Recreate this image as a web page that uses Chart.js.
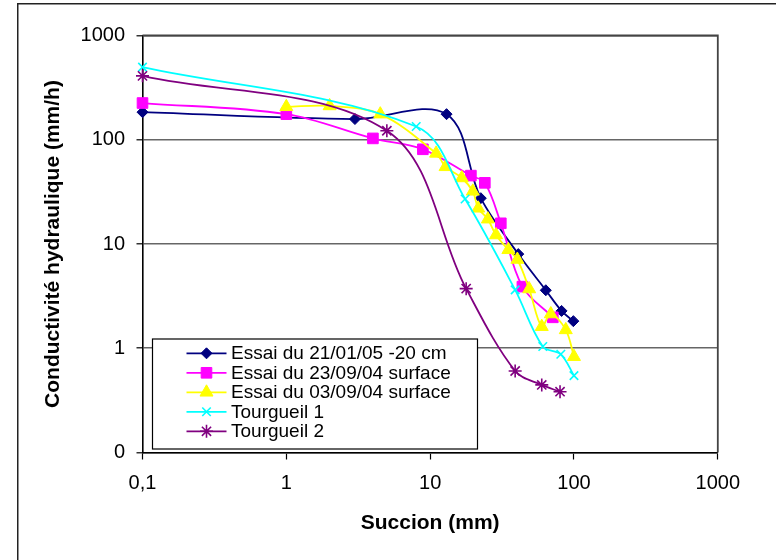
<!DOCTYPE html>
<html>
<head>
<meta charset="utf-8">
<script src="https://cdn.jsdelivr.net/npm/chart.js@4/dist/chart.umd.min.js"></script>
<style>
html,body{margin:0;padding:0;background:#fff;}
canvas{display:block;}
</style>
</head>
<body>
<canvas id="c" width="776" height="560"></canvas>
<script>
// ---- data ----
const seriesLabels = [
  'Essai du 21/01/05 -20 cm',
  'Essai du 23/09/04 surface',
  'Essai du 03/09/04 surface',
  'Tourgueil 1',
  'Tourgueil 2'
];
const essai210105X = [0.1, 3, 13, 22.5, 41, 63.7, 82, 99];
const essai210105Y = [184, 158, 176, 27.5, 8.0, 3.6, 2.28, 1.82];
const essai230904X = [0.1, 1, 4, 8.9, 19.2, 24, 31, 43.8, 71.3];
const essai230904Y = [225, 176, 103, 81, 45.3, 38.6, 15.8, 3.9, 1.98];
const essai030904X = [1, 2, 4.5, 11, 12.8, 16.6, 19.8, 21.6, 25.2, 28.7, 35, 40.4, 48.8, 59.7, 69, 87.7, 100];
const essai030904Y = [207, 211, 176, 74, 55, 43, 32, 22, 17.3, 12.2, 8.8, 7.1, 3.7, 1.61, 2.13, 1.5, 0.83];
const tourgueil1X = [0.1, 8, 17.5, 39, 60.7, 81, 100];
const tourgueil1Y = [497, 134, 27, 3.63, 1.04, 0.875, 0.546];
const tourgueil2X = [0.1, 5, 17.8, 39, 59.7, 80];
const tourgueil2Y = [410, 122, 3.73, 0.605, 0.445, 0.383];

const xTickValues = [0.1, 1, 10, 100, 1000];
const xTickLabels = ['0,1', '1', '10', '100', '1000'];
const yTickValues = [0.1, 1, 10, 100, 1000];
const yTickLabels = ['0', '1', '10', '100', '1000'];

const xTitle = 'Succion (mm)';
const yTitle = 'Conductivité hydraulique (mm/h)';

// ---- styles ----
const FONT = "'Liberation Sans', Arial, sans-serif";
const seriesStyles = [
  {color: '#000080', point: 'rectRot', radius: 5.5, pw: 1},
  {color: '#FF00FF', point: 'rect', radius: 7.5, pw: 1},
  {color: '#FFFF00', point: 'triangle', radius: 7.5, pw: 1},
  {color: '#00FFFF', point: 'crossRot', radius: 6, pw: 1.6},
  {color: '#800080', point: 'star', radius: 6.5, pw: 1.6}
];
const seriesX = [essai210105X, essai230904X, essai030904X, tourgueil1X, tourgueil2X];
const seriesY = [essai210105Y, essai230904Y, essai030904Y, tourgueil1Y, tourgueil2Y];

const datasets = seriesLabels.map((lab, i) => ({
  label: lab,
  data: seriesX[i].map((x, j) => ({x: x, y: seriesY[i][j]})),
  showLine: true,
  borderColor: seriesStyles[i].color,
  backgroundColor: seriesStyles[i].color,
  borderWidth: 1.8,
  tension: 0.35,
  pointStyle: seriesStyles[i].point,
  pointRadius: seriesStyles[i].radius,
  pointBackgroundColor: seriesStyles[i].color,
  pointBorderColor: seriesStyles[i].color,
  pointBorderWidth: seriesStyles[i].pw,
  clip: false,
  order: seriesLabels.length - i
}));

function drawMarker(ctx, style, x, y) {
  const r = style.radius;
  ctx.save();
  ctx.fillStyle = style.color;
  ctx.strokeStyle = style.color;
  ctx.lineWidth = style.pw;
  if (Chart.helpers && Chart.helpers.drawPoint) {
    Chart.helpers.drawPoint(ctx, {pointStyle: style.point, radius: r, borderWidth: style.pw, rotation: 0}, x, y);
  } else {
    ctx.beginPath();
    if (style.point === 'rectRot') {
      ctx.moveTo(x, y - r); ctx.lineTo(x + r, y); ctx.lineTo(x, y + r); ctx.lineTo(x - r, y); ctx.closePath(); ctx.fill();
    } else if (style.point === 'rect') {
      const s = r * Math.SQRT1_2; ctx.rect(x - s, y - s, 2 * s, 2 * s); ctx.fill();
    } else if (style.point === 'triangle') {
      ctx.moveTo(x, y - r); ctx.lineTo(x + r * 0.866, y + r / 2); ctx.lineTo(x - r * 0.866, y + r / 2); ctx.closePath(); ctx.fill();
    } else {
      const d = r * Math.SQRT1_2;
      ctx.moveTo(x - d, y - d); ctx.lineTo(x + d, y + d); ctx.moveTo(x + d, y - d); ctx.lineTo(x - d, y + d);
      if (style.point === 'star') { ctx.moveTo(x, y - r); ctx.lineTo(x, y + r); ctx.moveTo(x - r, y); ctx.lineTo(x + r, y); }
    }
    ctx.stroke();
  }
  ctx.restore();
}

const framePlugin = {
  id: 'frame',
  beforeDraw(chart) {
    const ctx = chart.ctx;
    ctx.save();
    ctx.fillStyle = '#fff';
    ctx.fillRect(0, 0, chart.width, chart.height);
    ctx.strokeStyle = '#222';
    ctx.lineWidth = 1.5;
    ctx.beginPath();
    ctx.moveTo(17.75, 562); ctx.lineTo(17.75, 3.75); ctx.lineTo(780, 3.75);
    ctx.stroke();
    ctx.restore();
  },
  afterDatasetsDraw(chart) {
    const ctx = chart.ctx;
    const a = chart.chartArea;
    ctx.save();
    // top and right plot border
    ctx.strokeStyle = '#444';
    ctx.lineWidth = 1.8;
    ctx.beginPath();
    ctx.moveTo(a.left, a.top); ctx.lineTo(a.right, a.top); ctx.lineTo(a.right, a.bottom);
    ctx.stroke();
    // legend box
    const lx = 152.5, ly = 339, lw = 325, lh = 110;
    ctx.fillStyle = '#fff';
    ctx.fillRect(lx, ly, lw, lh);
    ctx.strokeStyle = '#000';
    ctx.lineWidth = 1.2;
    ctx.strokeRect(lx, ly, lw, lh);
    ctx.font = '19px ' + FONT;
    ctx.textBaseline = 'middle';
    ctx.textAlign = 'left';
    seriesLabels.forEach((lab, i) => {
      const y = 353.3 + i * 19.5;
      const st = seriesStyles[i];
      ctx.strokeStyle = st.color;
      ctx.lineWidth = 1.8;
      ctx.beginPath();
      ctx.moveTo(186.5, y); ctx.lineTo(226.5, y);
      ctx.stroke();
      drawMarker(ctx, st, 206.5, y);
      ctx.fillStyle = '#000';
      ctx.fillText(lab, 231, y + 0.5);
    });
    ctx.restore();
  }
};

new Chart(document.getElementById('c'), {
  type: 'scatter',
  data: {datasets: datasets},
  options: {
    responsive: false,
    animation: false,
    devicePixelRatio: 1,
    layout: {padding: {left: 37, top: 35.5, right: 58.2, bottom: 20.4}},
    plugins: {legend: {display: false}, tooltip: {enabled: false}},
    scales: {
      x: {
        type: 'logarithmic',
        position: 'bottom',
        min: 0.1, max: 1000,
        afterBuildTicks: (s) => { s.ticks = xTickValues.map(v => ({value: v})); },
        afterFit: (s) => { s.height = 87.1; },
        ticks: {
          autoSkip: false, maxRotation: 0, padding: 12, color: '#000',
          font: {family: FONT, size: 20},
          callback: (v, i) => xTickLabels[i]
        },
        grid: {drawOnChartArea: false, drawTicks: true, tickLength: 7, tickColor: '#000', tickWidth: 1.2},
        border: {display: true, color: '#000', width: 1.6},
        title: {display: true, text: xTitle, color: '#000', font: {family: FONT, size: 21, weight: 'bold'}, padding: {top: 4, bottom: 4}}
      },
      y: {
        type: 'logarithmic',
        position: 'left',
        min: 0.1, max: 1000,
        afterBuildTicks: (s) => { s.ticks = yTickValues.map(v => ({value: v})); },
        afterFit: (s) => { s.width = 105.5; },
        ticks: {
          autoSkip: false, padding: 11.5, color: '#000',
          font: {family: FONT, size: 20},
          callback: (v, i) => yTickLabels[i]
        },
        grid: {drawOnChartArea: true, color: '#666', lineWidth: 1.6, drawTicks: true, tickLength: 6, tickColor: '#000', tickWidth: 1.2},
        border: {display: true, color: '#000', width: 1.6},
        title: {display: true, text: yTitle, color: '#000', font: {family: FONT, size: 21, weight: 'bold'}, padding: {top: 4, bottom: 4}}
      }
    }
  },
  plugins: [framePlugin]
});
</script>
</body>
</html>
